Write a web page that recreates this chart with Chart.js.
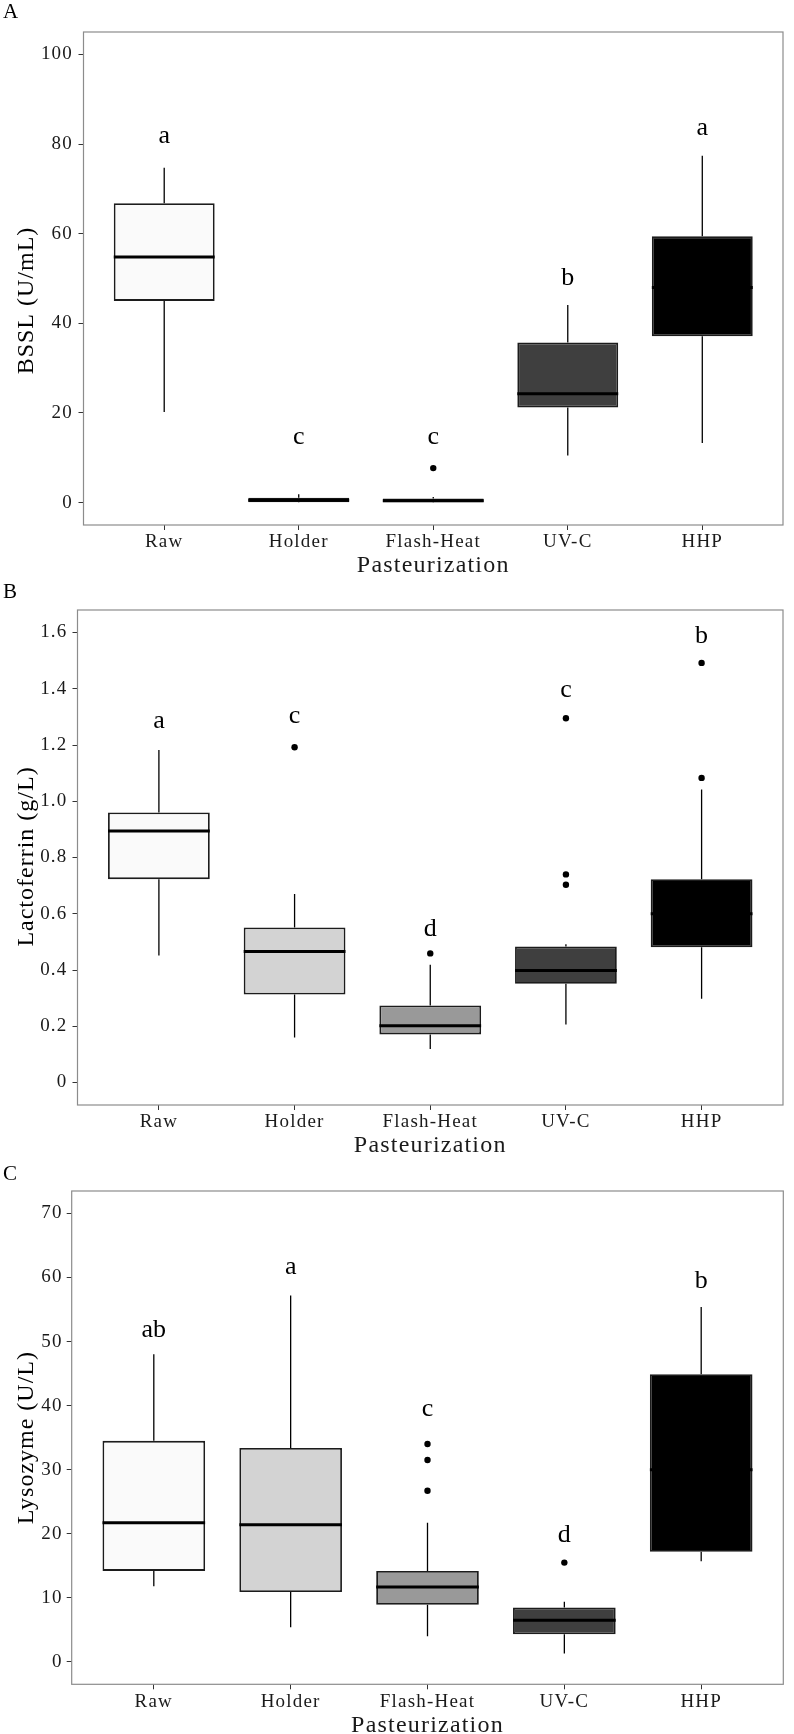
<!DOCTYPE html>
<html>
<head>
<meta charset="utf-8">
<script src="https://cdn.jsdelivr.net/npm/chart.js@4.4.0/dist/chart.umd.min.js"></script>
<style>
  body { margin: 0; width: 794px; height: 1734px; overflow: hidden; background: #fff; position: relative; }
  canvas { position: absolute; left: 0; }
</style>
</head>
<body>
<canvas id="chartA" width="794" height="580" style="top:0"></canvas>
<canvas id="chartB" width="794" height="580" style="top:580px"></canvas>
<canvas id="chartC" width="794" height="580" style="top:1160px"></canvas>
<script>
const categories = ["Raw", "Holder", "Flash-Heat", "UV-C", "HHP"];
const xTitle = "Pasteurization";

// A - BSSL (U/mL)
const bsslMin = [20.2, 0, 0, 10.5, 13.3];
const bsslQ1 = [45.0, 0.05, 0.1, 21.2, 37.1];
const bsslMedian = [54.8, 0.5, 0.4, 24.3, 48.0];
const bsslQ3 = [66.8, 1.1, 0.9, 35.7, 59.4];
const bsslMax = [74.7, 1.85, 1.25, 44.1, 77.4];
const bsslOutliers = [[], [], [7.7], [], []];
const bsslLetters = ["a", "c", "c", "b", "a"];
const bsslLetterY = [80.2, 13.1, 13.1, 48.5, 82.1];
const bsslTicks = [0, 20, 40, 60, 80, 100];
const bsslTickLabels = ["0", "20", "40", "60", "80", "100"];

// B - Lactoferrin (g/L)
const lfMin = [0.452, 0.160, 0.119, 0.206, 0.298];
const lfQ1 = [0.723, 0.313, 0.171, 0.351, 0.481];
const lfMedian = [0.894, 0.466, 0.202, 0.398, 0.600];
const lfQ3 = [0.960, 0.551, 0.274, 0.484, 0.723];
const lfMax = [1.182, 0.670, 0.419, 0.492, 1.042];
const lfOutliers = [[], [1.192], [0.459], [1.295, 0.740, 0.703], [1.492, 1.083]];
const lfLetters = ["a", "c", "d", "c", "b"];
const lfLetterY = [1.262, 1.278, 0.522, 1.371, 1.561];
const lfTicks = [0, 0.2, 0.4, 0.6, 0.8, 1.0, 1.2, 1.4, 1.6];
const lfTickLabels = ["0", "0.2", "0.4", "0.6", "0.8", "1.0", "1.2", "1.4", "1.6"];

// C - Lysozyme (U/L)
const lzMin = [11.8, 5.4, 4.0, 1.3, 15.7];
const lzQ1 = [14.2, 10.9, 8.9, 4.3, 17.2];
const lzMedian = [21.7, 21.4, 11.7, 6.5, 30.0];
const lzQ3 = [34.5, 33.4, 14.2, 8.5, 44.9];
const lzMax = [48.0, 57.2, 21.7, 9.4, 55.4];
const lzOutliers = [[], [], [34.0, 31.5, 26.7], [15.5], []];
const lzLetters = ["ab", "a", "c", "d", "b"];
const lzLetterY = [50.7, 60.6, 38.4, 18.7, 58.3];
const lzTicks = [0, 10, 20, 30, 40, 50, 60, 70];
const lzTickLabels = ["0", "10", "20", "30", "40", "50", "60", "70"];

const fills = ["#fafafa", "#d3d3d3", "#999999", "#3f3f3f", "#000000"];
const serif = '"Liberation Serif", "Times New Roman", serif';

Chart.defaults.font.family = serif;
Chart.defaults.color = "#1a1a1a";

// panel extras: letters, frame, tag, rotated y title
const panelDecor = {
  id: "panelDecor",
  beforeDraw(chart) {
    chart.ctx.letterSpacing = "1.2px";
  },
  afterDatasetsDraw(chart, args, opts) {
    const { ctx, chartArea: a } = chart;
    const x = chart.scales.x, y = chart.scales.y;
    ctx.save();
    ctx.letterSpacing = "0px";
    ctx.fillStyle = "#000";
    ctx.font = "26px " + serif;
    ctx.textAlign = "center";
    ctx.textBaseline = "alphabetic";
    opts.letters.forEach((t, i) => {
      ctx.fillText(t, x.getPixelForValue(i + 1), y.getPixelForValue(opts.letterY[i]));
    });

    ctx.strokeStyle = "#8c8c8c";
    ctx.lineWidth = 1.2;
    ctx.strokeRect(a.left, a.top, a.right - a.left, a.bottom - a.top);

    ctx.textAlign = "left";
    ctx.font = "21px " + serif;
    ctx.fillText(opts.tag, 3, opts.tagY);

    ctx.translate(27, (a.top + a.bottom) / 2 + opts.titleDy);
    ctx.rotate(-Math.PI / 2);
    ctx.letterSpacing = "1px";
    ctx.font = "24px " + serif;
    ctx.textAlign = "center";
    ctx.textBaseline = "middle";
    ctx.fillText(opts.yTitle, 0, 0);
    ctx.restore();
  }
};

function makeBoxplot(id, d) {
  const boxes = [], whiskers = [], medians = [], points = [];
  categories.forEach((c, i) => {
    const xv = i + 1;
    boxes.push({ x: xv, y: [d.q1[i], d.q3[i]] });
    whiskers.push({ x: xv, y: d.q3[i] }, { x: xv, y: d.max[i] }, { x: xv, y: null },
                  { x: xv, y: d.q1[i] }, { x: xv, y: d.min[i] }, { x: xv, y: null });
    medians.push({ x: xv - 0.375, y: d.median[i] }, { x: xv + 0.375, y: d.median[i] }, { x: xv, y: null });
    d.outliers[i].forEach(v => points.push({ x: xv, y: v }));
  });

  new Chart(document.getElementById(id), {
    type: "bar",
    data: {
      datasets: [
        {
          type: "line", data: whiskers, order: 3,
          borderColor: "#000", borderWidth: 1.3, pointRadius: 0, spanGaps: false, fill: false
        },
        {
          type: "bar", data: boxes, order: 2,
          backgroundColor: fills, borderColor: "#1c1c1c", borderWidth: 1.8, borderSkipped: false,
          barPercentage: 0.75, categoryPercentage: 1
        },
        {
          type: "line", data: medians, order: 1,
          borderColor: "#000", borderWidth: 3, pointRadius: 0, spanGaps: false, fill: false
        },
        {
          type: "scatter", data: points, order: 0,
          backgroundColor: "#000", borderWidth: 0, pointRadius: 3.2
        }
      ]
    },
    options: {
      responsive: false,
      animation: false,
      layout: { padding: { top: d.padTop, right: d.padRight, left: 0, bottom: 0 } },
      plugins: {
        legend: { display: false },
        tooltip: { enabled: false },
        panelDecor: { letters: d.letters, letterY: d.letterY, tag: d.tag, tagY: d.tagY, yTitle: d.yTitle, titleDy: d.titleDy }
      },
      scales: {
        x: {
          type: "linear", min: 0.4, max: 5.6, offset: false,
          afterBuildTicks: s => { s.ticks = categories.map((c, i) => ({ value: i + 1 })); },
          afterFit: s => { s.height = d.xHeight; },
          grid: { display: true, drawOnChartArea: false, drawTicks: true, tickLength: 5, color: "#333", offset: false },
          border: { display: false },
          ticks: { callback: (v, i) => categories[i], font: { size: 19 }, padding: 1, maxRotation: 0, autoSkip: false },
          title: { display: true, text: xTitle, font: { size: 24 }, padding: 0 }
        },
        y: {
          type: "linear", min: d.yMin, max: d.yMax,
          afterBuildTicks: s => { s.ticks = d.ticks.map(v => ({ value: v })); },
          afterFit: s => { s.width = d.yWidth; },
          grid: { display: true, drawOnChartArea: false, drawTicks: true, tickLength: 5, color: "#333" },
          border: { display: false },
          ticks: { callback: (v, i) => d.tickLabels[i], font: { size: 19 }, padding: d.tickPad, autoSkip: false }
        }
      }
    },
    plugins: [panelDecor]
  });
}

makeBoxplot("chartA", {
  min: bsslMin, q1: bsslQ1, median: bsslMedian, q3: bsslQ3, max: bsslMax, outliers: bsslOutliers,
  letters: bsslLetters, letterY: bsslLetterY, ticks: bsslTicks, tickLabels: bsslTickLabels,
  yMin: -5, yMax: 105, yTitle: "BSSL (U/mL)", tag: "A", tagY: 18.3, titleDy: 22,
  padTop: 32, padRight: 11, yWidth: 83.5, xHeight: 55, tickPad: 5.5
});

makeBoxplot("chartB", {
  min: lfMin, q1: lfQ1, median: lfMedian, q3: lfQ3, max: lfMax, outliers: lfOutliers,
  letters: lfLetters, letterY: lfLetterY, ticks: lfTicks, tickLabels: lfTickLabels,
  yMin: -0.08, yMax: 1.68, yTitle: "Lactoferrin (g/L)", tag: "B", tagY: 18.3, titleDy: -1,
  padTop: 30, padRight: 11, yWidth: 77.5, xHeight: 55, tickPad: 5
});

makeBoxplot("chartC", {
  min: lzMin, q1: lzQ1, median: lzMedian, q3: lzQ3, max: lzMax, outliers: lzOutliers,
  letters: lzLetters, letterY: lzLetterY, ticks: lzTicks, tickLabels: lzTickLabels,
  yMin: -3.5, yMax: 73.5, yTitle: "Lysozyme (U/L)", tag: "C", tagY: 20, titleDy: 0,
  padTop: 31, padRight: 10.7, yWidth: 71.7, xHeight: 55.7, tickPad: 4
});
</script>
</body>
</html>
